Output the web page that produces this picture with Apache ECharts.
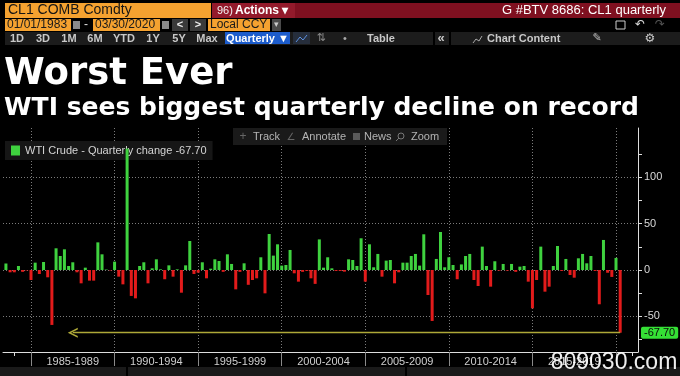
<!DOCTYPE html>
<html>
<head>
<meta charset="utf-8">
<script src="https://cdn.jsdelivr.net/npm/echarts@6/dist/echarts.min.js"></script>
<style>
  html, body { margin: 0; padding: 0; background: #000; }
  #main { width: 680px; height: 376px; }
</style>
</head>
<body>
<div id="main"></div>
<script>
// WTI front month, quarterly % change, 1983 Q2 .. 2020 Q1
var startYear = 1983;
var startQuarter = 2;
var quarterlyChange = [
    7, -2.5, -2.5,
    4.3, -2, -0.5, -10.8,
    7.9, -4.3, 8.6, -7.9,
    -59.3, 23.4, 15.1, 22.3,
    4.3, 8.3, -2.5, -14.4,
    2.5, -11.5, -11.5, 29.8,
    16.9, 0.5, -0.5, 9,
    -7.2, -15.5, 131, -28,
    -30.6, 4.3, 8.3, -14.4,
    1.8, 11.5, 0.7, -10,
    5, -7.2, 0.7, -24.5,
    5, 31.3, -4.3, -2.9,
    8.3, -9, 1.4, 11.5,
    9.7, -2, 16.9, 6.5,
    -20.9, -2, 7.2, -16,
    -10.8, -9, 13.7, -25.2,
    38.8, 15.5, 27.7, 4.7,
    5.4, 21.6, -3.6, -12.6,
    -2, -1, -9, -15,
    33, 2.5, 13.7, 1.8,
    -1, -1, -1.8, 11.5,
    10.8, 4.3, 34.2, -12.6,
    27.7, 2.9, 17.3, -7.2,
    10.1, 10.8, -14.4, -2.5,
    7.9, 7.9, 15.1, 17.3,
    4.7, 38.5, -27, -55,
    11.9, 41, 2.9, 13.7,
    5.4, -10, 6, 15.1,
    17.3, -10.8, -17.3, 25.2,
    4.3, -18, 9.4, -0.7,
    6.5, -0.7, 6.5, -2,
    3.6, 4.3, -12.6, -41.4,
    -10.8, 25.2, -23.4, -18,
    4.3, 25.9, -1, 11.9,
    -5.4, -8.3, 12.6, 17.3,
    7.2, 15.1, -1, -37,
    32.4, -3, -7.5, 13,
    -67.7
];
var lastChange = -67.70;
var arrowTo = 1987.5;

var periodStarts = [1985, 1990, 1995, 2000, 2005, 2010, 2015, 2020];
var periodLabels = ['1985-1989', '1990-1994', '1995-1999', '2000-2004', '2005-2009', '2010-2014', '2015-2019'];
var yearTicks = [1984, 1985, 1986, 1987, 1988, 1989, 1990, 1991, 1992, 1993, 1994, 1995, 1996, 1997, 1998, 1999, 2000,
    2001, 2002, 2003, 2004, 2005, 2006, 2007, 2008, 2009, 2010, 2011, 2012, 2013, 2014, 2015, 2016, 2017, 2018, 2019, 2020, 2021];
var yLabelValues = [-50, 0, 50, 100];
var yTickValues = [-75, -50, -25, 0, 25, 50, 75, 100, 125];

var xMin = 1983.325, xMax = 2021.316;
var yMin = -88.5, yMax = 153.2;

var upColor = '#3fd23f';
var downColor = '#e31b1b';
var orange = '#f5a230';
var gridDots = {color: '#7c7c7c', type: [1, 2], width: 1};
var uiFont = '"Liberation Sans", Arial, sans-serif';

var barData = [];
for (var i = 0; i < quarterlyChange.length; i++) {
    var q = startQuarter - 1 + i;
    var quarterEnd = startYear + Math.floor(q / 4) + (q % 4 + 1) / 4;
    var v = quarterlyChange[i];
    barData.push({value: [quarterEnd, v], itemStyle: {color: v < 0 ? downColor : upColor}});
}
var lastX = barData[barData.length - 1].value[0];

var periodMids = periodLabels.map(function (s, k) { return periodStarts[k] + 2.5; });

var box = function (x, y, w, h, fill, z) {
    return {type: 'rect', silent: true, z: z || 1, shape: {x: x, y: y, width: w, height: h}, style: {fill: fill}};
};
var txt = function (x, y, s, color, font, align, z) {
    return {type: 'text', silent: true, x: x, y: y, z: z || 2,
        style: {text: s, fill: color, font: font, align: align || 'left', verticalAlign: 'middle'}};
};

var header = [
    // row 1
    box(5, 3, 206, 15, orange),
    txt(8, 10.5, 'CL1 COMB Comdty', '#151515', '14px ' + uiFont),
    box(212, 3, 468, 15, '#7f1020'),
    box(212, 3, 83, 15, '#931a2b'),
    txt(217, 10.5, '96)', '#f2f2f2', '11px ' + uiFont),
    txt(235, 10.5, 'Actions \u25BE', '#ffffff', 'bold 12px ' + uiFont),
    txt(666, 10.5, 'G #BTV 8686: CL1 quarterly', '#ffffff', '13px ' + uiFont, 'right'),
    // row 2
    box(5, 19, 66, 12, orange),
    txt(7, 25, '01/01/1983', '#1a1a1a', '12px ' + uiFont),
    box(73, 21, 7, 8, '#8a8a8a'),
    txt(86, 25, '-', '#dddddd', '12px ' + uiFont, 'center'),
    box(93, 19, 67, 12, orange),
    txt(95, 25, '03/30/2020', '#1a1a1a', '12px ' + uiFont),
    box(162, 21, 7, 8, '#8a8a8a'),
    box(172, 19, 16, 12, '#3a3a3a'),
    txt(180, 25, '<', '#eeeeee', 'bold 11px ' + uiFont, 'center'),
    box(190, 19, 16, 12, '#3a3a3a'),
    txt(198, 25, '>', '#eeeeee', 'bold 11px ' + uiFont, 'center'),
    box(208, 19, 62, 12, orange),
    txt(210, 25, 'Local CCY', '#1a1a1a', '12px ' + uiFont),
    box(272, 19, 9, 12, '#4a4a4a'),
    txt(276.5, 25, '\u25BE', '#cccccc', '9px ' + uiFont, 'center'),
    {type: 'rect', silent: true, shape: {x: 616, y: 21, width: 9, height: 8}, style: {fill: 'none', stroke: '#cccccc', lineWidth: 1}},
    txt(640, 25, '\u21B6', '#dddddd', '12px "DejaVu Sans"', 'center'),
    txt(660, 25, '\u21B7', '#555555', '12px "DejaVu Sans"', 'center'),
    // row 3
    box(5, 32, 675, 13, '#1c1c1c'),
    txt(17, 38.5, '1D', '#c8c8c8', 'bold 11px ' + uiFont, 'center'),
    txt(43, 38.5, '3D', '#c8c8c8', 'bold 11px ' + uiFont, 'center'),
    txt(69, 38.5, '1M', '#c8c8c8', 'bold 11px ' + uiFont, 'center'),
    txt(95, 38.5, '6M', '#c8c8c8', 'bold 11px ' + uiFont, 'center'),
    txt(124, 38.5, 'YTD', '#c8c8c8', 'bold 11px ' + uiFont, 'center'),
    txt(153, 38.5, '1Y', '#c8c8c8', 'bold 11px ' + uiFont, 'center'),
    txt(179, 38.5, '5Y', '#c8c8c8', 'bold 11px ' + uiFont, 'center'),
    txt(207, 38.5, 'Max', '#c8c8c8', 'bold 11px ' + uiFont, 'center'),
    box(225, 32, 65, 12, '#1c5ccc'),
    txt(257.5, 38.5, 'Quarterly \u25BC', '#ffffff', 'bold 11px ' + uiFont, 'center'),
    box(293, 32, 17, 12, '#262e3c'),
    {type: 'polyline', silent: true, z: 2, shape: {points: [[296, 42], [300, 37], [303, 40], [307, 35]]}, style: {stroke: '#5b8fe0', fill: 'none', lineWidth: 1}},
    txt(321, 38.5, '\u21C5', '#8a8a8a', '11px "DejaVu Sans"', 'center'),
    txt(345, 38.5, '\u2022', '#aaaaaa', '11px ' + uiFont, 'center'),
    txt(381, 38.5, 'Table', '#c8c8c8', 'bold 11px ' + uiFont, 'center'),
    box(433, 32, 2, 13, '#000'),
    txt(441, 38.5, '\u00AB', '#c8c8c8', 'bold 13px ' + uiFont, 'center'),
    box(449, 32, 2, 13, '#000'),
    {type: 'polyline', silent: true, z: 2, shape: {points: [[473, 43], [476, 39], [479, 41], [482, 36]]}, style: {stroke: '#aaaaaa', fill: 'none', lineWidth: 1}},
    txt(487, 38.5, 'Chart Content', '#c8c8c8', 'bold 11px ' + uiFont),
    txt(597, 38.5, '\u270E', '#bbbbbb', '11px "DejaVu Sans"', 'center'),
    txt(650, 38.5, '\u2699', '#cccccc', '12px "DejaVu Sans"', 'center'),
    // headline
    txt(4, 74, 'Worst Ever', '#ffffff', 'bold 37px "DejaVu Sans"'),
    txt(4, 108, 'WTI sees biggest quarterly decline on record', '#ffffff', 'bold 25px "DejaVu Sans"'),
    // chart toolbar
    box(233, 128, 214, 17, '#1a1a1a', 5),
    txt(243, 137, '+', '#666666', '12px ' + uiFont, 'center', 6),
    txt(253, 137, 'Track', '#b4b4b4', '11px ' + uiFont, 'left', 6),
    txt(291, 137, '\u2220', '#666666', '10px "DejaVu Sans"', 'center', 6),
    txt(302, 137, 'Annotate', '#b4b4b4', '11px ' + uiFont, 'left', 6),
    box(353, 133, 7, 7, '#5a5a5a', 6),
    txt(364, 137, 'News', '#b4b4b4', '11px ' + uiFont, 'left', 6),
    {type: 'circle', silent: true, z: 6, shape: {cx: 401, cy: 136, r: 3}, style: {fill: 'none', stroke: '#777', lineWidth: 1}},
    {type: 'line', silent: true, z: 6, shape: {x1: 399, y1: 138, x2: 396, y2: 141}, style: {stroke: '#777', lineWidth: 1}},
    txt(411, 137, 'Zoom', '#b4b4b4', '11px ' + uiFont, 'left', 6),
    // bottom strip
    box(0, 367, 680, 9, '#1a1a1a'),
    box(126, 367, 2, 9, '#000'),
    box(405, 367, 2, 9, '#000'),
    txt(614, 363, '809030.com', 'rgba(255,255,255,0.93)', '23px ' + uiFont, 'center', 100)
];

var chart = echarts.init(document.getElementById('main'));

var option = {
    backgroundColor: '#000',
    animation: false,
    grid: {left: 3, right: 42, top: 128, bottom: 24, outerBoundsMode: 'none'},
    legend: {
        left: 5, top: 141, z: 1, selectedMode: false,
        backgroundColor: '#161616', padding: [4, 6, 4, 6],
        icon: 'rect', itemWidth: 9, itemHeight: 10, itemGap: 4,
        textStyle: {color: '#d4d4d4', fontSize: 11, fontFamily: uiFont},
        formatter: function (name) { return name + ' ' + lastChange.toFixed(2); },
        data: ['WTI Crude - Quarterly change']
    },
    xAxis: [{
        type: 'value', min: xMin, max: xMax, position: 'bottom',
        axisLine: {show: true, onZero: false, lineStyle: {color: '#dddddd', width: 1}},
        axisTick: {show: true, customValues: yearTicks, length: 4, lineStyle: {color: '#dddddd'}},
        axisLabel: {
            customValues: periodMids, margin: 1, color: '#cfcfcf', fontSize: 11, fontFamily: uiFont,
            backgroundColor: '#000', padding: [3, 1, 1, 1],
            formatter: function (v) {
                var k = periodMids.indexOf(v);
                return k < 0 ? '' : periodLabels[k];
            }
        },
        splitLine: {show: false}
    }, {
        type: 'value', min: xMin, max: xMax, position: 'bottom',
        axisLine: {show: false, onZero: false},
        axisTick: {show: true, customValues: periodStarts, length: 14, lineStyle: {color: '#8a8a8a'}},
        axisLabel: {show: false},
        splitLine: {show: true, lineStyle: gridDots}
    }],
    yAxis: [{
        type: 'value', min: yMin, max: yMax, position: 'right',
        axisLine: {show: true, onZero: false, lineStyle: {color: '#dddddd'}},
        axisTick: {show: true, customValues: yTickValues, length: 4, lineStyle: {color: '#dddddd'}},
        axisLabel: {customValues: yLabelValues, margin: 6, color: '#d8d8d8', fontSize: 11, fontFamily: uiFont},
        splitLine: {show: false}
    }, {
        type: 'value', min: yMin, max: yMax, position: 'right',
        axisLine: {show: false, onZero: false},
        axisTick: {show: false, customValues: yLabelValues},
        axisLabel: {show: false},
        splitLine: {show: true, lineStyle: gridDots}
    }],
    series: [{
        name: 'WTI Crude - Quarterly change',
        type: 'bar',
        xAxisIndex: 0,
        yAxisIndex: 0,
        barWidth: 3,
        clip: false,
        z: 3,
        itemStyle: {color: upColor},
        data: barData,
        markLine: {
            silent: true,
            symbol: ['none', 'path://M5,0 L10,10 L8.3,10 L5,3.3 L1.7,10 L0,10 Z'],
            symbolSize: [10, 10],
            lineStyle: {color: '#aea838', width: 1.3, type: 'solid'},
            label: {show: false},
            data: [[{coord: [lastX, lastChange]}, {coord: [arrowTo, lastChange]}]]
        },
        markPoint: {
            silent: true,
            symbol: 'rect',
            symbolSize: 0,
            label: {
                show: true, position: 'right', distance: 3,
                formatter: lastChange.toFixed(2),
                backgroundColor: '#35e035', color: '#0a0a0a', fontSize: 11, fontFamily: uiFont,
                padding: [1, 3, 0, 3], borderRadius: 2
            },
            data: [{coord: [xMax, lastChange]}]
        }
    }],
    graphic: header
};

chart.setOption(option);
</script>
</body>
</html>
